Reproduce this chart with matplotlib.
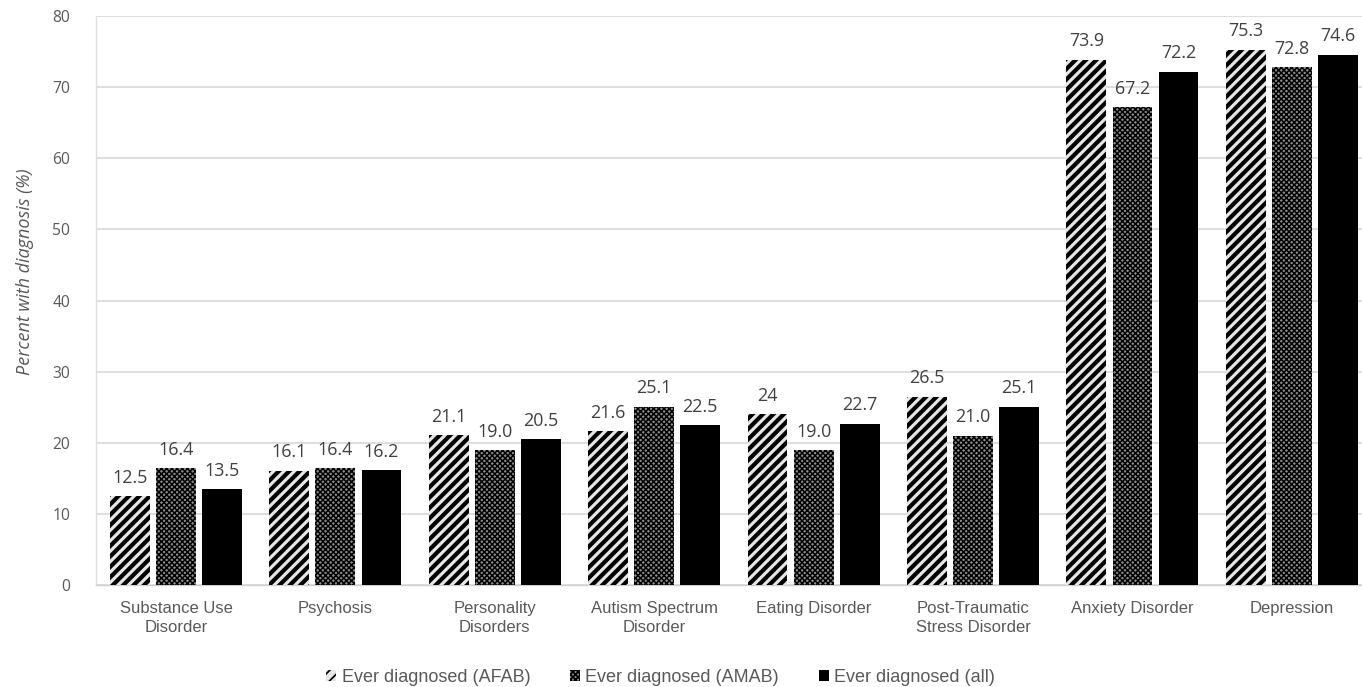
import matplotlib
matplotlib.use("Agg")
import matplotlib.pyplot as plt
import numpy as np

categories = ["Substance Use\nDisorder", "Psychosis", "Personality\nDisorders",
              "Autism Spectrum\nDisorder", "Eating Disorder",
              "Post-Traumatic\nStress Disorder", "Anxiety Disorder", "Depression"]
series_names = ["Ever diagnosed (AFAB)", "Ever diagnosed (AMAB)", "Ever diagnosed (all)"]
afab = [12.5, 16.1, 21.1, 21.6, 24.0, 26.5, 73.9, 75.3]
amab = [16.4, 16.4, 19.0, 25.1, 19.0, 21.0, 67.2, 72.8]
all_ = [13.5, 16.2, 20.5, 22.5, 22.7, 25.1, 72.2, 74.6]
afab_labels = ["12.5", "16.1", "21.1", "21.6", "24", "26.5", "73.9", "75.3"]
amab_labels = ["16.4", "16.4", "19.0", "25.1", "19.0", "21.0", "67.2", "72.8"]
all_labels = ["13.5", "16.2", "20.5", "22.5", "22.7", "25.1", "72.2", "74.6"]
yticks = [0, 10, 20, 30, 40, 50, 60, 70, 80]

DPI = 125
fig = plt.figure(figsize=(1362 / DPI, 687 / DPI), dpi=DPI)
ax = fig.add_axes([0.0707, 0.1485, 0.9363, 0.828])

x = np.arange(len(categories))
w = 0.25
step = 0.289
text_col = "#595959"
num_font = ["Open Sans", "DejaVu Sans"]
sans_font = ["Liberation Sans", "DejaVu Sans"]

styles = [
    dict(facecolor="#e6e6e6", edgecolor="black", hatch="////", linewidth=0),
    dict(facecolor="#8a8a8a", edgecolor="black", hatch="xxxxxxxx", linewidth=0),
    dict(facecolor="black", edgecolor="black", linewidth=0),
]
hatch_widths = [2.4, 0.85, 1.0]
data = [afab, amab, all_]
labels = [afab_labels, amab_labels, all_labels]

handles = []
for i, (vals, labs, st) in enumerate(zip(data, labels, styles)):
    plt.rcParams["hatch.linewidth"] = hatch_widths[i]
    bars = ax.bar(x + (i - 1) * step, vals, width=w, label=series_names[i],
                  zorder=3, **st)
    handles.append(bars)
    for b, lab in zip(bars, labs):
        ax.text(b.get_x() + b.get_width() / 2, b.get_height() + 1.3, lab,
                ha="center", va="bottom", fontsize=10.3, color="#404040",
                family=num_font)

ax.set_ylim(0, 80)
ax.set_xlim(-0.5, len(categories) - 0.5)
ax.set_yticks(yticks)
ax.yaxis.grid(True, color="#d9d9d9", linewidth=1, zorder=0)
ax.set_axisbelow(True)
for s in ["top", "right"]:
    ax.spines[s].set_visible(False)
ax.spines["left"].set_color("#e0e0e0")
ax.spines["bottom"].set_color("#d0d0d0")
ax.tick_params(axis="both", length=0, colors=text_col)
ax.tick_params(axis="y", pad=15)
ax.tick_params(axis="x", pad=9)
ax.set_xticks(x)
ax.set_xticklabels(categories, fontsize=9.6, color=text_col,
                   family=sans_font, linespacing=1.35)
for t in ax.get_yticklabels():
    t.set_fontsize(9)
    t.set_family(num_font)
    t.set_color(text_col)
ax.set_ylabel("Percent with diagnosis (%)", fontsize=10.4, style="italic",
              color=text_col, family=num_font)
ax.yaxis.set_label_coords(-0.049, 0.55)

leg = fig.legend(handles=handles, loc="center", bbox_to_anchor=(0.485, 0.014),
                 ncol=3, frameon=False, handlelength=0.55,
                 handleheight=0.55, handletextpad=0.3, columnspacing=2.2,
                 prop={"family": sans_font, "size": 10.4})
for t in leg.get_texts():
    t.set_color(text_col)

fig.savefig("out.png", dpi=DPI)
